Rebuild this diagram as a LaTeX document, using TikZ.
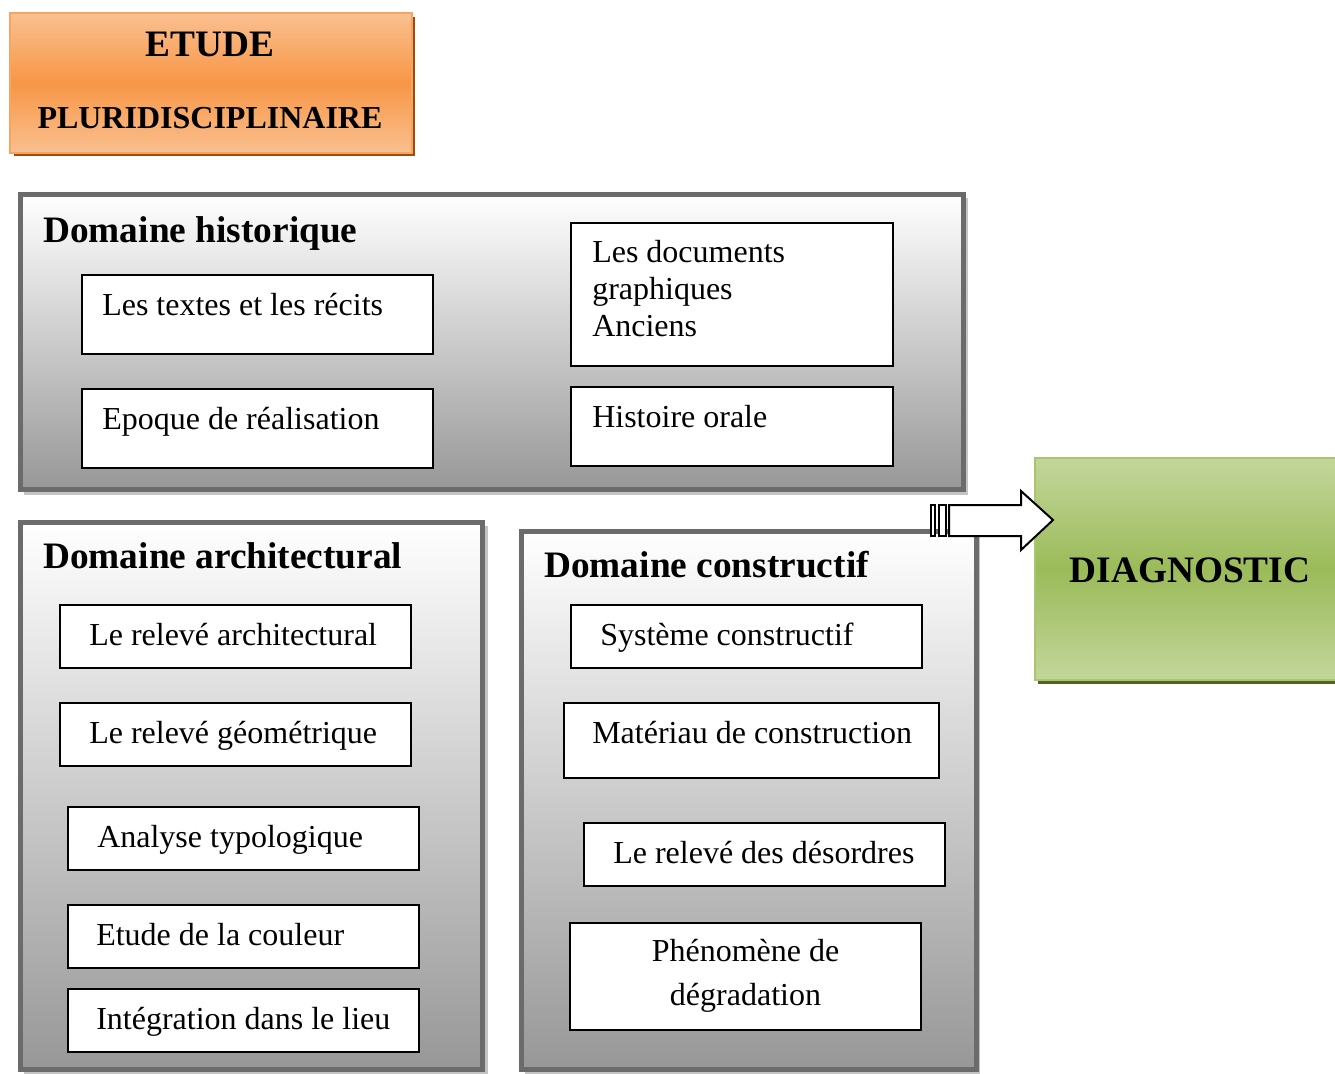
\documentclass[tikz,border=0pt]{standalone}
\usepackage{fontspec}
\setmainfont{Liberation Serif}
\usetikzlibrary{calc}
\definecolor{otop}{HTML}{FAC090}
\definecolor{omid}{HTML}{F79646}
\definecolor{oborder}{HTML}{F6A460}
\definecolor{oshadow}{HTML}{9C4D0E}
\definecolor{gtop}{HTML}{C3D69B}
\definecolor{gmid}{HTML}{9BBB59}
\definecolor{gborder}{HTML}{A9C56E}
\definecolor{gshadow}{HTML}{4F6228}
\definecolor{pborder}{HTML}{6B6B6B}
\definecolor{pbottom}{HTML}{979797}
\definecolor{pshadow}{HTML}{C4C4C4}
\begin{document}
\begin{tikzpicture}[x=0.75pt,y=-0.75pt,
  sz/.style 2 args={minimum width=#1*0.75pt, minimum height=#2*0.75pt, inner sep=0pt, outer sep=0pt},
  panel/.style={draw=pborder, line width=3.75pt, top color=white, bottom color=pbottom},
  pshad/.style={fill=pshadow, draw=none},
  inbox/.style={draw=black, line width=1.5pt, fill=white},
  txt/.style={inner sep=0pt, anchor=base west, font=\fontsize{24}{28}\selectfont},
  ttl/.style={inner sep=0pt, anchor=base west, font=\fontsize{28}{32}\selectfont\bfseries},
  arrowpart/.style={draw=black, line width=1.5pt, fill=white, line join=miter}
]
\useasboundingbox (0,0) rectangle (1335,1074);

% ---- ETUDE PLURIDISCIPLINAIRE ----
\fill[oshadow] (14,17) rectangle (415,156);
\node[sz={402}{140}, draw=oborder, line width=1.5pt, top color=otop, bottom color=otop, middle color=omid] (etude) at (211,83) {};
\node[inner sep=0pt, anchor=base, font=\fontsize{28}{32}\selectfont\bfseries] (etude1) at (210,57) {ETUDE};
\node[inner sep=0pt, anchor=base, font=\fontsize{24}{28}\selectfont\bfseries] (etude2) at (210,128) {PLURIDISCIPLINAIRE};

% ---- DIAGNOSTIC ----
\fill[gshadow] (1038,462) rectangle (1340,684);
\node[sz={310}{222}, draw=gborder, line width=1.5pt, top color=gtop, bottom color=gtop, middle color=gmid] (diag) at (1190,569) {};
\node[inner sep=0pt, anchor=base, font=\fontsize{28}{32}\selectfont\bfseries] (diagt) at (1190,582) {DIAGNOSTIC};

% ---- Domaine historique ----
\fill[pshadow] (24,198) rectangle (968,495);
\node[panel, sz={943}{295}] (hist) at (492,342) {};
\node[ttl] (histt) at (43,242) {Domaine historique};
\node[inbox, sz={351}{79}] (h1) at (257.5,314.5) {};
\node[txt] at (102,315) {Les textes et les récits};
\node[inbox, sz={351}{79}] (h2) at (257.5,428.5) {};
\node[txt] at (102,429) {Epoque de réalisation};
\node[inbox, sz={322}{143}] (h3) at (732,294.5) {};
\node[txt] at (592,262) {Les documents};
\node[txt] at (592,299) {graphiques};
\node[txt] at (592,336) {Anciens};
\node[inbox, sz={322}{79}] (h4) at (732,426.5) {};
\node[txt] at (592,427) {Histoire orale};

% ---- Domaine architectural ----
\fill[pshadow] (24,526) rectangle (488,1080);
\node[panel, sz={461.5}{547}] (arch) at (251.25,796) {};
\node[ttl] (archt) at (43,568) {Domaine architectural};
\node[inbox, sz={351}{63}] (a1) at (235.5,636.5) {};
\node[txt] at (89,645) {Le relevé architectural};
\node[inbox, sz={351}{63}] (a2) at (235.5,734.5) {};
\node[txt] at (89,743) {Le relevé géométrique};
\node[inbox, sz={351}{63}] (a3) at (243.5,838.5) {};
\node[txt] at (97,847) {Analyse typologique};
\node[inbox, sz={351}{63}] (a4) at (243.5,936.5) {};
\node[txt] at (96,945) {Etude de la couleur};
\node[inbox, sz={351}{63}] (a5) at (243.5,1020.5) {};
\node[txt] at (96,1029) {Intégration dans le lieu};

% ---- Domaine constructif ----
\fill[pshadow] (525,535) rectangle (980,1080);
\node[panel, sz={454.5}{538.5}] (cons) at (748.75,800.25) {};
\node[ttl] (const) at (544,577) {Domaine constructif};
\node[inbox, sz={351}{63}] (c1) at (746.5,636.5) {};
\node[txt] at (600,645) {Système constructif};
\node[inbox, sz={375}{75}] (c2) at (751.5,740.5) {};
\node[txt] at (592,743) {Matériau de construction};
\node[inbox, sz={361}{63}] (c3) at (764.5,854.5) {};
\node[txt] at (613,863) {Le relevé des désordres};
\node[inbox, sz={351}{107}] (c4) at (745.5,976.5) {};
\node[inner sep=0pt, anchor=base, font=\fontsize{24}{28}\selectfont] at (745.5,961) {Phénomène de};
\node[inner sep=0pt, anchor=base, font=\fontsize{24}{28}\selectfont] at (745.5,1005) {dégradation};

% ---- striped block arrow to DIAGNOSTIC ----
\coordinate (tip) at (1053,520);
\draw[arrowpart] (930.5,505) rectangle (934.5,536);
\draw[arrowpart] (938.5,505) rectangle (946,536);
\draw[arrowpart] (949,505) -- (1021,505) -- (1021,491) -- (tip) -- (1021,550) -- (1021,536) -- (949,536) -- cycle;
\end{tikzpicture}
\end{document}
